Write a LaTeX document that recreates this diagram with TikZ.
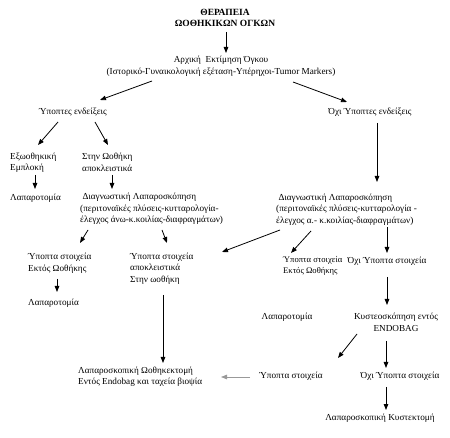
\documentclass[tikz,border=0pt]{standalone}
\usepackage{fontspec}
\setmainfont{Liberation Serif}
\usetikzlibrary{arrows.meta,calc}
\begin{document}
\begin{tikzpicture}[x=1pt,y=-1pt,
  txt/.style={inner sep=0pt,font=\fontsize{9.2}{11.5}\selectfont},
  ltxt/.style={txt,align=left,anchor=west},
  ctxt/.style={txt,align=center},
  arr/.style={line width=0.8pt,-{Triangle[length=6pt,width=4.5pt]}},
  grayarr/.style={arr,draw=gray!80}]
\useasboundingbox (0,0) rectangle (450,438);
% nodes
\node[ctxt,font=\fontsize{9.5}{11.5}\selectfont\bfseries] (title) at (225,18) {ΘΕΡΑΠΕΙΑ\\ΩΟΘΗΚΙΚΩΝ ΟΓΚΩΝ};
\node[ctxt] (arx) at (221,66) {Αρχική\ \ Εκτίμηση Όγκου\\(Ιστορικό-Γυναικολογική εξέταση-Υπέρηχοι-Tumor Markers)};
\node[ctxt] (yp) at (73,112) {Ύποπτες ενδείξεις};
\node[ctxt] (oyp) at (370,112) {Όχι Ύποπτες ενδείξεις};
\node[ltxt] (exo) at (10,162.5) {Εξωοθηκική\\Εμπλοκή};
\node[ltxt] (stin) at (82,162.5) {Στην Ωοθήκη\\αποκλειστικά};
\node[ltxt] (lap1) at (10,198) {Λαπαροτομία};
\node[ltxt] (diag1) at (80,209) {\ Διαγνωστική Λαπαροσκόπηση\\(περιτοναϊκές πλύσεις-κυτταρολογία-\\έλεγχος άνω-κ.κοιλίας-διαφραγμάτων)};
\node[ltxt] (ye1) at (28,263) {Ύποπτα στοιχεία\\Εκτός Ωοθήκης};
\node[ltxt] (ya1) at (130,268.5) {Ύποπτα στοιχεία\\αποκλειστικά\\Στην ωοθήκη};
\node[ltxt] (lap2) at (28,303) {Λαπαροτομία};
\node[ltxt] (lapo) at (78,376.5) {Λαπαροσκοπική Ωοθηκεκτομή\\Εντός Endobag και ταχεία βιοψία};
\node[ltxt] (diag2) at (276,209.5) {\ Διαγνωστική Λαπαροσκόπηση\\(περιτοναϊκές πλύσεις-κυτταρολογία -\\έλεγχος α.- κ.κοιλίας-διαφραγμάτων)};
\node[ltxt,font=\fontsize{8.6}{10.5}\selectfont] (ye2) at (283,266) {Ύποπτα στοιχεία\\Εκτός Ωοθήκης};
\node[ctxt] (oy2) at (387,261) {Όχι Ύποπτα στοιχεία};
\node[ctxt] (kys) at (396,322.5) {Κυστεοσκόπηση εντός\\ENDOBAG};
\node[ctxt] (lap3) at (287,317) {Λαπαροτομία};
\node[ctxt] (yp3) at (291,376) {Ύποπτα στοιχεία};
\node[ctxt] (oy3) at (400,376) {Όχι Ύποπτα στοιχεία};
\node[ctxt] (lk) at (380,418) {Λαπαροσκοπική Κυστεκτομή};
% connectors
\draw[arr] ($(title)+(1,14)$) -- ($(arx)+(5,-13)$);
\draw[arr] ($(arx)+(-69,15)$) -- ($(yp)+(27,-12)$);
\draw[arr] ($(arx)+(72,16)$) -- ($(oyp)+(-23,-10)$);
\draw[arr] ($(yp)+(-15,10)$) -- ($(exo.west)+(28,-17.5)$);
\draw[arr] ($(yp)+(22,10)$) -- ($(stin.west)+(26,-17.5)$);
\draw[arr] ($(exo.west)+(25,12.5)$) -- ($(lap1.west)+(25,-9)$);
\draw[arr] ($(stin.west)+(30,12.5)$) -- ($(diag1.west)+(32,-20)$);
\draw[arr] ($(diag1.west)+(8,21)$) -- ($(ye1.west)+(52,-20)$);
\draw[arr] ($(diag1.west)+(82,21)$) -- ($(ya1.west)+(37,-25.5)$);
\draw[arr] ($(ye1.west)+(29,16)$) -- ($(lap2.west)+(29,-11)$);
\draw[arr] ($(ya1.west)+(33,26.5)$) -- ($(lapo.west)+(85,-13.5)$);
\draw[arr] ($(oyp)+(7,11)$) -- ($(diag2.west)+(101,-27.5)$);
\draw[arr] ($(diag2.west)+(4,20.5)$) -- ($(ya1.west)+(92,-16.5)$);
\draw[arr] ($(diag2.west)+(35,21.5)$) -- ($(ye2.west)+(8,-13)$);
\draw[arr] ($(diag2.west)+(111,17.5)$) -- ($(oy2)+(0,-8)$);
\draw[arr] ($(oy2)+(0,16)$) -- ($(kys)+(-9,-17.5)$);
\draw[arr] ($(kys)+(-39,11.5)$) -- ($(yp3)+(47,-18)$);
\draw[arr] ($(kys)+(-10,18.5)$) -- ($(oy3)+(-14,-8)$);
\draw[grayarr] ($(yp3)+(-41,1)$) -- ($(lapo.west)+(143,0.5)$);
\draw[arr] ($(oy3)+(-14,11)$) -- ($(lk)+(6,-8)$);
\end{tikzpicture}
\end{document}
